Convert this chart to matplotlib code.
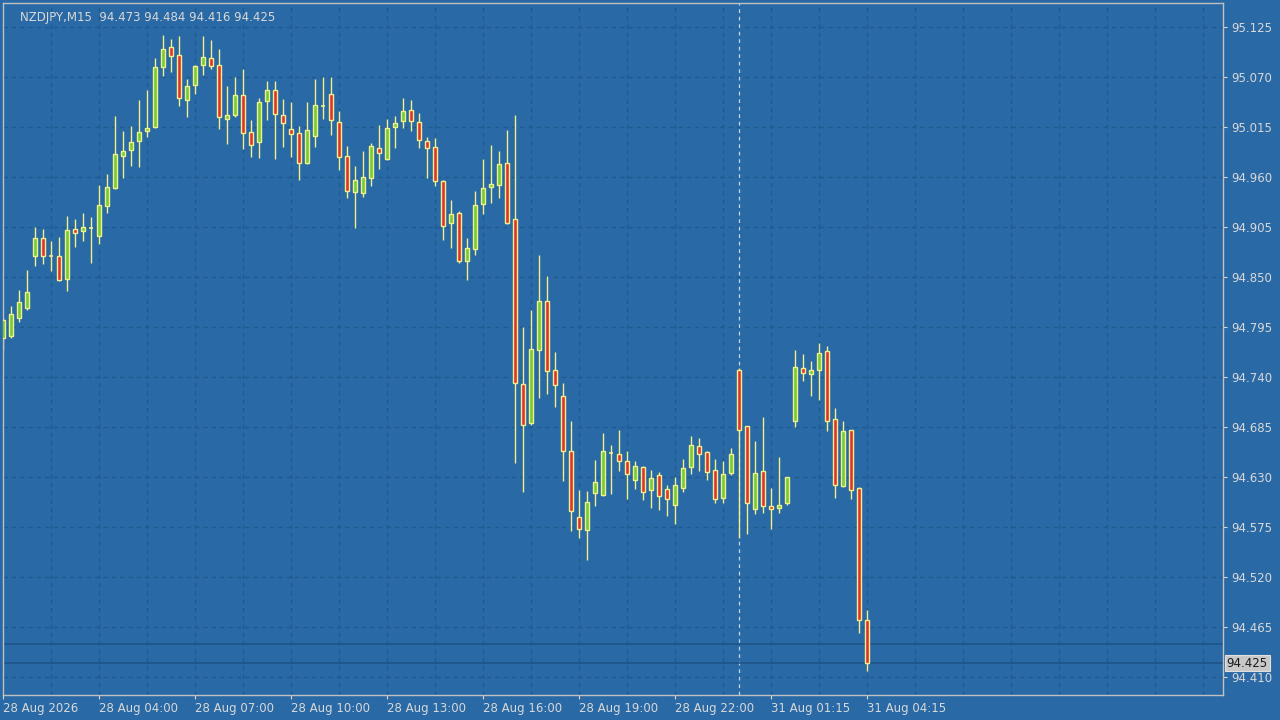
import numpy as np
import matplotlib
matplotlib.use("Agg")
import matplotlib.pyplot as plt

symbol = "NZDJPY,M15"

# OHLC of the 109 M15 bars
opens = [94.783, 94.785, 94.805, 94.816, 94.873, 94.893, 94.873, 94.873, 94.848, 94.903,
         94.900, 94.904, 94.895, 94.928, 94.948, 94.983, 94.990, 95.000, 95.011, 95.015,
         95.081, 95.103, 95.094, 95.045, 95.061, 95.083, 95.091, 95.083, 95.024, 95.028,
         95.050, 95.009, 94.998, 95.044, 95.056, 95.028, 95.013, 95.008, 94.975, 95.005,
         95.038, 95.051, 95.021, 94.983, 94.943, 94.942, 94.959, 94.992, 94.980, 95.015,
         95.022, 95.034, 95.021, 95.000, 94.993, 94.956, 94.909, 94.920, 94.867, 94.881,
         94.930, 94.949, 94.951, 94.975, 94.914, 94.732, 94.689, 94.770, 94.823, 94.748,
         94.719, 94.658, 94.586, 94.572, 94.612, 94.610, 94.656, 94.655, 94.648, 94.627,
         94.641, 94.616, 94.632, 94.617, 94.599, 94.618, 94.641, 94.664, 94.657, 94.638,
         94.607, 94.634, 94.748, 94.686, 94.595, 94.637, 94.598, 94.596, 94.601, 94.692,
         94.750, 94.743, 94.748, 94.768, 94.694, 94.620, 94.682, 94.618, 94.473]
highs = [94.805, 94.818, 94.836, 94.858, 94.905, 94.903, 94.890, 94.894, 94.917, 94.914,
         94.920, 94.916, 94.951, 94.963, 95.027, 95.011, 95.016, 95.045, 95.056, 95.091,
         95.116, 95.112, 95.115, 95.068, 95.083, 95.115, 95.111, 95.101, 95.060, 95.070,
         95.079, 95.023, 95.047, 95.066, 95.066, 95.046, 95.042, 95.016, 95.042, 95.068,
         95.070, 95.070, 95.033, 94.994, 94.972, 94.989, 94.997, 95.017, 95.024, 95.027,
         95.047, 95.045, 95.030, 95.004, 95.003, 94.957, 94.935, 94.923, 94.893, 94.945,
         94.980, 94.995, 94.989, 95.012, 95.028, 94.795, 94.814, 94.874, 94.851, 94.767,
         94.733, 94.692, 94.616, 94.615, 94.649, 94.678, 94.665, 94.682, 94.659, 94.648,
         94.642, 94.638, 94.635, 94.621, 94.630, 94.650, 94.675, 94.673, 94.659, 94.650,
         94.648, 94.662, 94.750, 94.686, 94.670, 94.696, 94.618, 94.652, 94.630, 94.770,
         94.765, 94.757, 94.777, 94.774, 94.706, 94.691, 94.682, 94.619, 94.484]
lows = [94.770, 94.783, 94.800, 94.814, 94.862, 94.864, 94.856, 94.845, 94.835, 94.883,
        94.889, 94.865, 94.886, 94.920, 94.947, 94.959, 94.972, 94.971, 95.004, 95.014,
        95.071, 95.075, 95.038, 95.026, 95.051, 95.072, 95.079, 95.013, 94.996, 95.026,
        94.991, 94.982, 94.981, 95.023, 94.980, 94.993, 94.982, 94.957, 94.974, 94.993,
        95.024, 95.006, 94.968, 94.937, 94.904, 94.938, 94.950, 94.969, 94.979, 94.992,
        95.014, 95.011, 94.992, 94.959, 94.950, 94.891, 94.882, 94.865, 94.847, 94.874,
        94.919, 94.931, 94.937, 94.908, 94.645, 94.613, 94.687, 94.717, 94.721, 94.707,
        94.625, 94.570, 94.563, 94.538, 94.598, 94.609, 94.611, 94.637, 94.606, 94.617,
        94.605, 94.596, 94.594, 94.587, 94.578, 94.613, 94.633, 94.637, 94.627, 94.601,
        94.601, 94.632, 94.563, 94.567, 94.589, 94.590, 94.573, 94.590, 94.599, 94.685,
        94.736, 94.719, 94.715, 94.680, 94.607, 94.619, 94.606, 94.458, 94.416]
closes = [94.803, 94.809, 94.822, 94.833, 94.893, 94.873, 94.873, 94.847, 94.902, 94.898,
          94.905, 94.904, 94.929, 94.949, 94.985, 94.989, 94.999, 95.010, 95.014, 95.081,
          95.101, 95.093, 95.047, 95.060, 95.082, 95.092, 95.082, 95.026, 95.028, 95.050,
          95.008, 94.995, 95.042, 95.056, 95.029, 95.019, 95.007, 94.975, 95.012, 95.039,
          95.038, 95.023, 94.982, 94.945, 94.957, 94.960, 94.994, 94.986, 95.014, 95.019,
          95.033, 95.022, 95.001, 94.992, 94.955, 94.906, 94.919, 94.868, 94.882, 94.929,
          94.948, 94.952, 94.974, 94.909, 94.733, 94.687, 94.771, 94.824, 94.746, 94.731,
          94.659, 94.592, 94.573, 94.602, 94.624, 94.659, 94.656, 94.647, 94.633, 94.642,
          94.613, 94.629, 94.609, 94.606, 94.621, 94.640, 94.665, 94.655, 94.635, 94.606,
          94.633, 94.655, 94.682, 94.601, 94.634, 94.598, 94.595, 94.599, 94.630, 94.751,
          94.744, 94.748, 94.766, 94.692, 94.621, 94.681, 94.616, 94.473, 94.425]

price_ticks = [95.125, 95.070, 95.015, 94.960, 94.905, 94.850, 94.795, 94.740,
               94.685, 94.630, 94.575, 94.520, 94.465, 94.410]
time_labels = ["28 Aug 2026", "28 Aug 04:00", "28 Aug 07:00", "28 Aug 10:00",
               "28 Aug 13:00", "28 Aug 16:00", "28 Aug 19:00", "28 Aug 22:00",
               "31 Aug 01:15", "31 Aug 04:15"]
label_every = 12
day_sep_bar = 92
ask_price = 94.446

bg = "#2969a5"
grid_c = "#1f5a8f"
bull = "#73cc3c"
bear = "#e03232"
wick = "#f2f08a"
txt = "#d8d8d8"

o = np.array(opens); h = np.array(highs); l = np.array(lows); c = np.array(closes)
x = np.arange(len(o))

fig = plt.figure(figsize=(12.8, 7.2), dpi=100, facecolor=bg)
ax = fig.add_axes([3 / 1280, 25 / 720, 1220 / 1280, 692 / 720])
ax.set_facecolor(bg)
ax.set_xlim(0, 152.5)
ax.set_ylim(94.390, 95.1514)

# grid
for p in price_ticks:
    ax.axhline(p, color=grid_c, lw=1, ls=(0, (3, 3)), zorder=0)
for gx in range(6, 153, 6):
    ax.axvline(gx, color=grid_c, lw=1, ls=(0, (3, 3)), zorder=0)

ax.axvline(day_sep_bar, color="#c8d4e6", lw=0.9, ls=(0, (3, 3)), zorder=1)
ax.axhline(c[-1], color="#1d5488", lw=1.2, zorder=1)
ax.axhline(ask_price, color="#1d5488", lw=1.2, zorder=1)

# candles
ax.vlines(x, l, h, color=wick, lw=1, zorder=2)
up = c > o
down = c < o
flat = c == o
ax.bar(x[up], (c - o)[up], bottom=o[up], width=0.62, color=bull,
       edgecolor=wick, linewidth=1, zorder=3)
ax.bar(x[down], (o - c)[down], bottom=c[down], width=0.62, color=bear,
       edgecolor=wick, linewidth=1, zorder=3)
ax.hlines(o[flat], x[flat] - 0.31, x[flat] + 0.31, color=wick, lw=1.2, zorder=3)

# axes / ticks
for s in ax.spines.values():
    s.set_color("#c0c0c0")
    s.set_linewidth(1)
ax.yaxis.tick_right()
ax.set_yticks(price_ticks)
ax.set_yticklabels([f"{p:.3f}" for p in price_ticks])
ax.tick_params(axis="y", colors=txt, labelsize=8.5, length=3, pad=3)
ax.tick_params(axis="y", labelcolor=txt)
ax.set_xticks(np.arange(len(time_labels)) * label_every)
ax.set_xticklabels(time_labels, ha="left")
ax.tick_params(axis="x", colors=txt, labelsize=8.5, length=3, pad=2)

# last price tag
ax.text(1.003, c[-1], f"{c[-1]:.3f}", transform=ax.get_yaxis_transform(),
        ha="left", va="center", fontsize=8.5, color="#1a1a1a",
        bbox=dict(boxstyle="square,pad=0.15", fc="#c8c8c8", ec="#e0e0e0", lw=0.8))

ax.text(0.014, 0.988, f"{symbol}  {o[-1]:.3f} {h[-1]:.3f} {l[-1]:.3f} {c[-1]:.3f}",
        transform=ax.transAxes, ha="left", va="top", fontsize=8.5, color=txt)

fig.savefig("out.png", dpi=100, facecolor=bg)
